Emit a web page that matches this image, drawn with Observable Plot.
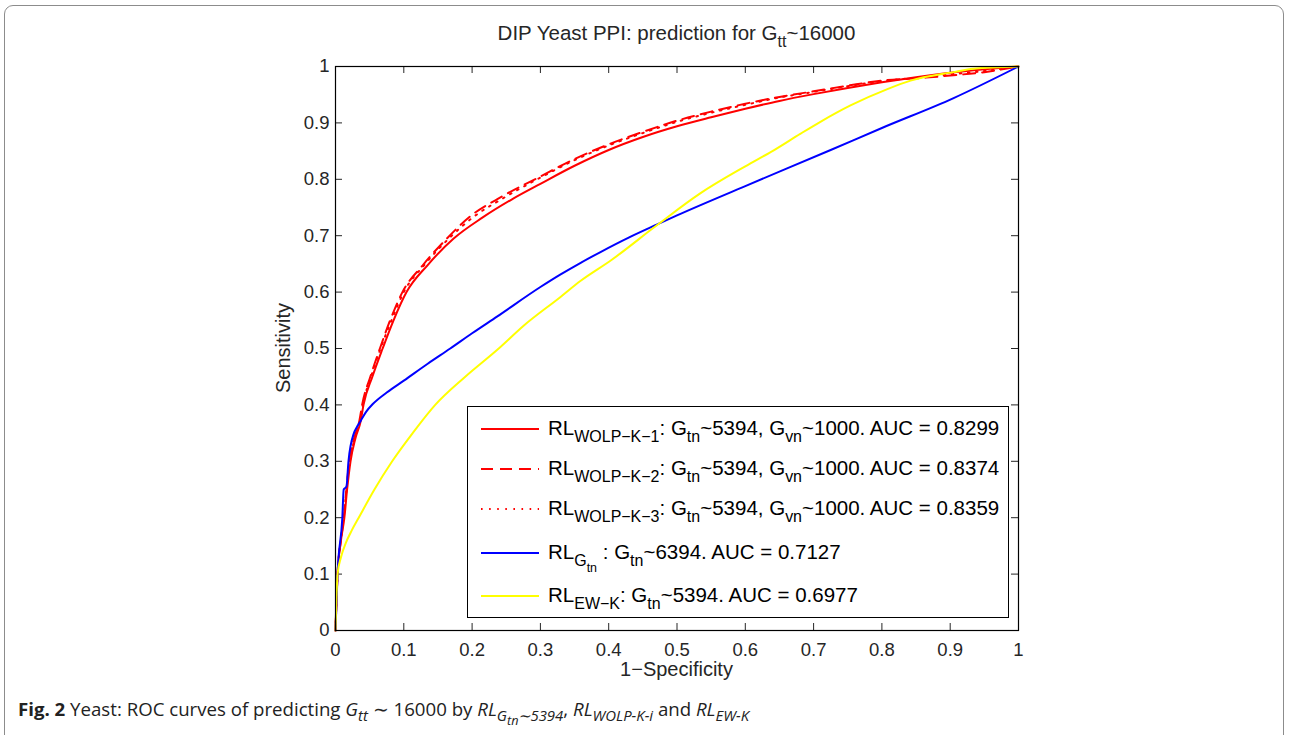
<!DOCTYPE html>
<html>
<head>
<meta charset="utf-8">
<script src="https://cdn.jsdelivr.net/npm/d3@7"></script>
<script src="https://cdn.jsdelivr.net/npm/@observablehq/plot@0.6"></script>
<style>
  html, body { margin: 0; padding: 0; background: #fff; width: 1291px; height: 735px; overflow: hidden; }
  #frame { position: absolute; left: 4px; top: 5px; width: 1280px; height: 800px; border: 1.5px solid #8c8c8c; border-radius: 9px; box-sizing: border-box; }
  #chart { position: absolute; left: 0; top: 0; }
  .mat { font-family: "Liberation Sans", Arial, Helvetica, sans-serif; color: #262626; }
  #title { position: absolute; left: 0; width: 1353px; top: 21px; text-align: center; font-size: 20.5px; }
  #xlabel { position: absolute; left: 0; width: 1353px; top: 658px; text-align: center; font-size: 20px; }
  #ylabel { position: absolute; left: 283px; top: 348px; transform: translate(-50%, -50%) rotate(-90deg); font-size: 20px; white-space: nowrap; }
  sub.s1 { font-size: 0.78em; vertical-align: -0.45em; line-height: 0; }
  #legend { position: absolute; left: 467px; top: 406px; width: 542px; height: 212px; box-sizing: border-box; border: 1px solid #000; background: #fff; font-size: 20.5px; color: #000; }
  .row { position: absolute; left: 0; height: 20px; white-space: nowrap; }
  .row svg { position: absolute; left: 12px; top: 0; }
  .row .txt { position: absolute; left: 80px; top: -2px; line-height: 22px; }
  #caption { position: absolute; left: 18px; top: 696px; font-family: "Open Sans", Lato, sans-serif; font-size: 18.65px; color: #222; white-space: nowrap; }
  #caption sub { font-size: 0.8em; vertical-align: -0.35em; line-height: 0; }
  #caption sub sub { font-size: 0.85em; }
</style>
</head>
<body>
<div id="frame"></div>
<div id="chart"></div>
<div id="title" class="mat">DIP Yeast PPI: prediction for G<sub class="s1">tt</sub>~16000</div>
<div id="xlabel" class="mat">1−Specificity</div>
<div id="ylabel" class="mat">Sensitivity</div>
<div id="legend" class="mat"></div>
<div id="caption"><b>Fig. 2</b> Yeast: ROC curves of predicting <i>G<sub>tt</sub></i> ∼ 16000 by <i>RL<sub>G<sub>tn</sub>∼5394</sub></i>, <i>RL<sub>WOLP-K-i</sub></i> and <i>RL<sub>EW-K</sub></i></div>
<script>
// ---- data ----
const xTicks = [0, 0.1, 0.2, 0.3, 0.4, 0.5, 0.6, 0.7, 0.8, 0.9, 1];
const yTicks = [0, 0.1, 0.2, 0.3, 0.4, 0.5, 0.6, 0.7, 0.8, 0.9, 1];
const xTickLabels = ["0", "0.1", "0.2", "0.3", "0.4", "0.5", "0.6", "0.7", "0.8", "0.9", "1"];
const yTickLabels = ["0", "0.1", "0.2", "0.3", "0.4", "0.5", "0.6", "0.7", "0.8", "0.9", "1"];

const seriesNames = ["K1", "K2", "K3", "Gtn", "EWK"];

const fprK1 = [0,0.003,0.008,0.013,0.017,0.022,0.029,0.037,0.041,0.054,0.069,0.085,0.104,0.135,0.173,0.215,0.259,0.3,0.35,0.4,0.45,0.5,0.55,0.6,0.65,0.7,0.75,0.8,0.85,0.9,0.95,1];
const tprK1 = [0,0.1,0.16,0.2,0.25,0.3,0.34,0.372,0.4,0.45,0.5,0.55,0.6,0.648,0.695,0.732,0.765,0.792,0.824,0.852,0.875,0.894,0.91,0.925,0.939,0.951,0.962,0.972,0.981,0.989,0.995,1];

const fprK2 = [0,0.003,0.008,0.012,0.016,0.02,0.027,0.035,0.039,0.051,0.065,0.08,0.098,0.128,0.163,0.2,0.237,0.3,0.35,0.4,0.45,0.5,0.55,0.6,0.65,0.7,0.75,0.8,0.85,0.9,0.95,1];
const tprK2 = [0,0.1,0.16,0.2,0.25,0.3,0.34,0.372,0.4,0.45,0.5,0.55,0.6,0.648,0.695,0.737,0.765,0.805,0.836,0.862,0.884,0.904,0.92,0.934,0.946,0.956,0.966,0.975,0.979,0.984,0.99,1];

const fprK3 = [0,0.003,0.008,0.012,0.016,0.021,0.028,0.036,0.04,0.052,0.066,0.082,0.1,0.13,0.166,0.204,0.242,0.3,0.35,0.4,0.45,0.5,0.55,0.6,0.65,0.7,0.75,0.8,0.85,0.9,0.95,1];
const tprK3 = [0,0.1,0.16,0.2,0.25,0.3,0.34,0.372,0.4,0.45,0.5,0.55,0.6,0.648,0.695,0.735,0.764,0.803,0.834,0.86,0.882,0.902,0.918,0.932,0.945,0.955,0.965,0.974,0.98,0.986,0.992,1];

const fprGtn = [0,0.003,0.01,0.012,0.016,0.019,0.027,0.031,0.037,0.045,0.055,0.075,0.1,0.135,0.168,0.2,0.237,0.3,0.329,0.359,0.388,0.43,0.471,0.5,0.6,0.725,0.8,0.905,1];
const tprGtn = [0,0.1,0.2,0.25,0.255,0.3,0.35,0.36,0.372,0.388,0.402,0.422,0.443,0.473,0.5,0.527,0.557,0.609,0.631,0.652,0.671,0.697,0.72,0.736,0.788,0.852,0.891,0.944,1];

const fprEWK = [0,0.003,0.008,0.015,0.024,0.034,0.057,0.083,0.113,0.146,0.19,0.239,0.275,0.329,0.359,0.403,0.47,0.534,0.6,0.641,0.681,0.71,0.754,0.808,0.842,0.905,0.934,1];
const tprEWK = [0,0.1,0.13,0.155,0.178,0.2,0.25,0.3,0.35,0.4,0.45,0.5,0.54,0.591,0.62,0.656,0.718,0.775,0.823,0.851,0.881,0.902,0.931,0.96,0.975,0.99,0.996,1];

const seriesColors = ["#ff0000", "#ff0000", "#ff0000", "#0000ff", "#ffff00"];
const seriesDash = [null, "12,7", "1.6,6.5", null, null];
const legendHTML = [
  'RL<sub class="s1">WOLP−K−1</sub>: G<sub class="s1">tn</sub>~5394, G<sub class="s1">vn</sub>~1000. AUC = 0.8299',
  'RL<sub class="s1">WOLP−K−2</sub>: G<sub class="s1">tn</sub>~5394, G<sub class="s1">vn</sub>~1000. AUC = 0.8374',
  'RL<sub class="s1">WOLP−K−3</sub>: G<sub class="s1">tn</sub>~5394, G<sub class="s1">vn</sub>~1000. AUC = 0.8359',
  'RL<sub class="s1">G<sub class="s1">tn</sub></sub> : G<sub class="s1">tn</sub>~6394. AUC = 0.7127',
  'RL<sub class="s1">EW−K</sub>: G<sub class="s1">tn</sub>~5394. AUC = 0.6977'
];

// ---- build ----
const fprs = [fprK1, fprK2, fprK3, fprGtn, fprEWK];
const tprs = [tprK1, tprK2, tprK3, tprGtn, tprEWK];
const seriesData = seriesNames.map((n, i) => fprs[i].map((f, j) => ({x: f, y: tprs[i][j]})));

const W = 1291, H = 690;
const mL = 335, mR = 273, mT = 66, mB = 60;
const tickLenX = 7 / (W - mL - mR);
const tickLenY = 7 / (H - mT - mB);

const lineMarks = seriesData.map((d, i) => Plot.line(d, {
  x: "x", y: "y", stroke: seriesColors[i], strokeWidth: 2, curve: "monotone-x",
  strokeDasharray: seriesDash[i] || undefined
}));

const chart = Plot.plot({
  width: W, height: H,
  marginLeft: mL, marginRight: mR, marginTop: mT, marginBottom: mB,
  style: {background: "transparent", fontFamily: "'Liberation Sans', Arial, Helvetica, sans-serif", color: "#262626"},
  x: {domain: [0, 1]},
  y: {domain: [0, 1]},
  marks: [
    Plot.axisX(xTicks, {tickSize: 0, tickPadding: 12, fontSize: 18.5, tickFormat: (d) => xTickLabels[xTicks.indexOf(d)], label: null}),
    Plot.axisY(yTicks, {tickSize: 0, tickPadding: 6, fontSize: 18.5, tickFormat: (d) => yTickLabels[yTicks.indexOf(d)], label: null}),
    Plot.ruleX(xTicks, {x: d => d, y1: 0, y2: tickLenY, stroke: "#262626"}),
    Plot.ruleX(xTicks, {x: d => d, y1: 1, y2: 1 - tickLenY, stroke: "#262626"}),
    Plot.ruleY(yTicks, {y: d => d, x1: 0, x2: tickLenX, stroke: "#262626"}),
    Plot.ruleY(yTicks, {y: d => d, x1: 1, x2: 1 - tickLenX, stroke: "#262626"}),
    ...lineMarks,
    Plot.frame({stroke: "#000", strokeWidth: 1.2})
  ]
});
document.getElementById("chart").appendChild(chart);

// ---- legend ----
const rowTops = [418, 458, 498, 542, 585].map(v => v - 406);
const legend = document.getElementById("legend");
seriesNames.forEach((n, i) => {
  const row = document.createElement("div");
  row.className = "row";
  row.style.top = rowTops[i] + "px";
  const dash = seriesDash[i] ? ` stroke-dasharray="${seriesDash[i]}"` : "";
  row.innerHTML = `<svg width="60" height="20"><line x1="1" x2="59" y1="10" y2="10" stroke="${seriesColors[i]}" stroke-width="2"${dash}/></svg><span class="txt">${legendHTML[i]}</span>`;
  legend.appendChild(row);
});
</script>
</body>
</html>
